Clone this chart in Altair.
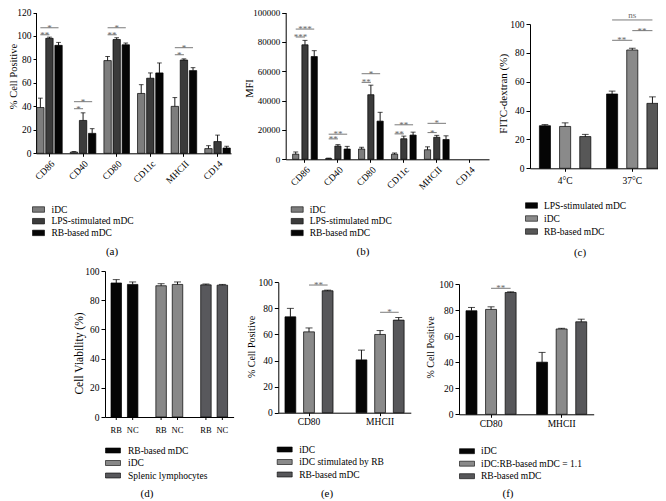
import altair as alt
import pandas as pd

FONT = "Liberation Serif"
W, H = 650, 493
M = 8
SIG_COLOR = "#6c6c6c"

# ---------------- data ----------------
# (a) % Cell Positive
a_cats = ["CD86", "CD40", "CD80", "CD11c", "MHCII", "CD14"]
a_groups = ["iDC", "LPS-stimulated mDC", "RB-based mDC"]
a_idc = [39, 1, 79, 51, 40, 4]
a_idc_err = [8, 0.5, 3.5, 7.5, 7.5, 2.5]
a_lps = [98, 28, 97, 64, 79.5, 10]
a_lps_err = [1, 6.5, 1.5, 4.5, 1, 5.5]
a_rb = [92, 17, 92.5, 68.5, 70.5, 4.5]
a_rb_err = [2.5, 4, 1.5, 8.5, 2.5, 1.5]
a_sig_cat = ["CD86", "CD86", "CD40", "CD40", "CD80", "CD80", "MHCII", "MHCII"]
a_sig_from = ["iDC"] * 8
a_sig_to = ["LPS-stimulated mDC", "RB-based mDC"] * 4
a_sig_y = [101, 107, 38, 44, 101, 107, 84, 90]
a_sig_text = ["**", "*", "*", "*", "**", "*", "*", "*"]

# (b) MFI
b_cats = ["CD86", "CD40", "CD80", "CD11c", "MHCII", "CD14"]
b_groups = ["iDC", "LPS-stimulated mDC", "RB-based mDC"]
b_measured = ["CD86", "CD40", "CD80", "CD11c", "MHCII"]
b_idc = [3500, 500, 7000, 3500, 6500]
b_idc_err = [1500, 300, 1200, 800, 2000]
b_lps = [78000, 9000, 44000, 14000, 15000]
b_lps_err = [3000, 1000, 6500, 1800, 1300]
b_rb = [70000, 7000, 26000, 16500, 13500]
b_rb_err = [4000, 1800, 6000, 2000, 2500]
b_sig_cat = ["CD86", "CD86", "CD40", "CD40", "CD80", "CD80", "CD11c", "CD11c", "MHCII", "MHCII"]
b_sig_from = ["iDC"] * 10
b_sig_to = ["LPS-stimulated mDC", "RB-based mDC"] * 5
b_sig_y = [83300, 88700, 13900, 17100, 52400, 58300, 17300, 23500, 18200, 24500]
b_sig_text = ["***", "***", "**", "**", "**", "*", "**", "**", "*", "*"]

# (c) FITC-dextran (%)
c_cats = ["4°C", "37°C"]
c_groups = ["LPS-stimulated mDC", "iDC", "RB-based mDC"]
c_lps = [29.5, 51.5]
c_lps_err = [0.8, 2]
c_idc = [29, 82]
c_idc_err = [2.5, 1.2]
c_rb = [22, 45]
c_rb_err = [1.5, 4.5]
c_sig_cat = ["37°C", "37°C", "37°C"]
c_sig_from = ["LPS-stimulated mDC", "iDC", "LPS-stimulated mDC"]
c_sig_to = ["iDC", "RB-based mDC", "RB-based mDC"]
c_sig_y = [88.7, 95.4, 102.8]
c_sig_text = ["**", "**", "ns"]

# (d) Cell Viability (%)
d_cells = ["RB-based mDC", "iDC", "Splenic lymphocytes"]
d_conds = ["RB", "NC"]
d_rb = [91.8, 89.9, 90.5]
d_rb_err = [2.3, 1.4, 0.6]
d_nc = [90.8, 90.8, 90.3]
d_nc_err = [1.7, 1.7, 0.5]

# (e) % Cell Positive
e_cats = ["CD80", "MHCII"]
e_groups = ["iDC", "iDC stimulated by RB", "RB-based mDC"]
e_idc = [73.5, 40.5]
e_idc_err = [6.5, 7.5]
e_stim = [62, 60]
e_stim_err = [3, 3]
e_rb = [93.5, 71]
e_rb_err = [0.5, 2]
e_sig_cat = ["CD80", "MHCII"]
e_sig_from = ["iDC stimulated by RB", "iDC stimulated by RB"]
e_sig_to = ["RB-based mDC", "RB-based mDC"]
e_sig_y = [97.9, 77]
e_sig_text = ["**", "*"]

# (f) % Cell Positive
f_cats = ["CD80", "MHCII"]
f_groups = ["iDC", "iDC:RB-based mDC = 1.1", "RB-based mDC"]
f_idc = [79.5, 40]
f_idc_err = [2.5, 7.5]
f_mix = [80.5, 65.5]
f_mix_err = [2, 0.5]
f_rb = [93.5, 71]
f_rb_err = [0.5, 2]
f_sig_cat = ["CD80"]
f_sig_from = ["iDC:RB-based mDC = 1.1"]
f_sig_to = ["RB-based mDC"]
f_sig_y = [96.7]
f_sig_text = ["**"]

captions = ["(a)", "(b)", "(c)", "(d)", "(e)", "(f)"]

# ---------------- helpers ----------------
# symbol paths are scaled by sqrt(size)/2 = 5 px per unit (size 100)
RECT_A = "M-1.2,-0.55H1.2V0.55H-1.2Z"   # 12 x 5.5 px
RECT_D = "M-1.5,-0.5H1.5V0.5H-1.5Z"     # 15 x 5 px


def axis(**kw):
    base = dict(domainColor="black", domainWidth=1, tickColor="black", tickWidth=1,
                labelFont=FONT, labelColor="black", grid=False,
                titleFont=FONT, titleColor="black", titleFontWeight="normal")
    base.update(kw)
    return alt.Axis(**base)


def legend(g):
    half = 6 if g["sym"] == RECT_A else 7.5
    return alt.Legend(orient="none", legendX=g["lx"] - M + (half - 5), legendY=g["ly"] - M - 5,
                      title=None, direction="vertical", symbolType=g["sym"],
                      symbolSize=100, symbolStrokeColor="black",
                      symbolStrokeWidth=0.6, labelFont=FONT, labelFontSize=9.5,
                      labelColor="black", labelOffset=(half - 5) + g["gap"],
                      rowPadding=g["rowpad"], padding=0)


def encodings(cats, groups, g):
    ax = g["ax"] - M
    y0 = g["y0"] - M
    yt = g["ytop"] - M
    xs = alt.Scale(domain=cats, range=[ax, g["xend"] - M], paddingInner=g["pi"],
                   paddingOuter=g["po"], align=g.get("align", 0.5))
    ys = alt.Scale(domain=g["ydom"], range=[y0, yt], nice=False, zero=False)
    offs = alt.Scale(domain=groups, paddingInner=g["opi"], paddingOuter=0)
    xaxis = axis(orient="bottom", offset=y0 - H, ticks=g.get("xticks", True), tickSize=3,
                 labels=g.get("xlabels", True), labelAngle=g.get("angle", 0),
                 labelFontSize=g.get("xfs", 9.5), labelPadding=g.get("xpad", 2))
    yaxis = axis(orient="left", offset=-ax, values=g["yvals"], format="d",
                 tickSize=g.get("ytick", 4), labelFontSize=g.get("yfs", 9.5), labelPadding=2,
                 titleFontSize=g["tfs"], titleAngle=270, titleAlign="center",
                 titleBaseline="middle", titleX=g["tx"] - g["ax"], titleY=g["ty"] - M)
    X = alt.X("cat:N", scale=xs, axis=xaxis, title=None)
    XO = alt.XOffset("grp:N", scale=offs)

    def Y(field):
        return alt.Y(f"{field}:Q", scale=ys, axis=yaxis, title=g["title"])
    return X, XO, Y


def bar_layers(df, X, XO, Y, color, g):
    bars = alt.Chart(df).mark_bar(stroke="black", strokeWidth=0.7).encode(
        x=X, xOffset=XO, y=Y("v"), color=color)
    err = alt.Chart(df).mark_rule(color="black", strokeWidth=0.9).encode(
        x=X, xOffset=XO, y=Y("v"), y2="top:Q")
    cap = alt.Chart(df).mark_tick(color="black", thickness=1, size=g["cap"]).encode(
        x=X, xOffset=XO, y=Y("top"))
    return [bars, err, cap]


def sig_layers(sig, groups, X, XO, Y, hp):
    cats_s, froms, tos, yv, labels = sig
    lines, texts = [], []
    for i, (c, f, t, y, lab) in enumerate(zip(cats_s, froms, tos, yv, labels)):
        lines.append({"id": i, "cat": c, "grp": f, "v": y})
        lines.append({"id": i, "cat": c, "grp": t, "v": y})
        fi, ti = groups.index(f), groups.index(t)
        adj = abs(ti - fi) == 1
        anchor = f if adj else groups[(fi + ti) // 2]
        kind = ("adj" if adj else "mid") + ("_ns" if lab == "ns" else "")
        texts.append({"cat": c, "grp": anchor, "v": y, "label": lab, "kind": kind})
    out = [alt.Chart(pd.DataFrame(lines)).mark_line(color=SIG_COLOR, strokeWidth=0.9).encode(
        x=X, xOffset=XO, y=Y("v"), detail="id:N")]
    tdf = pd.DataFrame(texts)
    for kind in tdf["kind"].unique():
        sub = tdf[tdf["kind"] == kind]
        dx = hp if kind.startswith("adj") else 0
        dy = -1.5 if kind.endswith("ns") else 3
        out.append(alt.Chart(sub).mark_text(font=FONT, fontSize=9, color=SIG_COLOR,
                                            baseline="alphabetic", dx=dx, dy=dy).encode(
            x=X, xOffset=XO, y=Y("v"), text="label:N"))
    return out


def grouped_panel(cats, groups, series, errs, colors, sig, g, measured=None):
    rows = []
    use = measured if measured is not None else cats
    for grp, vals, es in zip(groups, series, errs):
        for c, v, e in zip(use, vals, es):
            rows.append({"cat": c, "grp": grp, "v": v, "top": v + e})
    df = pd.DataFrame(rows)
    X, XO, Y = encodings(cats, groups, g)
    color = alt.Color("grp:N", scale=alt.Scale(domain=groups, range=colors), legend=legend(g))
    layers = bar_layers(df, X, XO, Y, color, g)
    if sig is not None:
        layers += sig_layers(sig, groups, X, XO, Y, g["hp"])
    return alt.layer(*layers)


# ---------------- panels ----------------
GA = dict(ax=36, y0=153.3, ytop=12.5, ydom=[0, 120], yvals=[0, 20, 40, 60, 80, 100, 120],
          xend=231, pi=0.24, po=0.02, opi=0.19, cap=4.7, angle=315, xfs=9.5, yfs=9.5, ytick=3,
          title="% Cell Positive", tfs=10.5, tx=13.8, ty=76, hp=4.5,
          lx=32, ly=209, sym=RECT_A, gap=6.5, rowpad=1.7)
GB = dict(ax=285.7, y0=159.3, ytop=12.5, ydom=[0, 100000],
          yvals=[0, 20000, 40000, 60000, 80000, 100000],
          xend=489, pi=0.25, po=0.21, opi=0.33, cap=5, angle=315, xfs=9.5, yfs=9,
          title="MFI", tfs=10.5, tx=249.5, ty=88, hp=4.7,
          lx=290.7, ly=209, sym=RECT_A, gap=6, rowpad=1.7)
GC = dict(ax=530, y0=168.3, ytop=24, ydom=[0, 100], yvals=[0, 20, 40, 60, 80, 100],
          xend=658, pi=0.234, po=0.07, align=1, opi=0.45, cap=6.7, xfs=9.5, xpad=4, yfs=9.5,
          title="FITC-dextran (%)", tfs=11, tx=503.3, ty=93.3, hp=9.7,
          lx=525, ly=205, sym=RECT_A, gap=6, rowpad=3)
GD = dict(ax=105, y0=417, ytop=271, ydom=[0, 100], yvals=[0, 20, 40, 60, 80, 100],
          xend=233.6, pi=0.4, po=0.134, opi=0.36, cap=7, xticks=False, xlabels=False, yfs=9.5,
          title="Cell Viability (%)", tfs=11.5, tx=79.5, ty=353,
          lx=105, ly=450, sym=RECT_D, gap=7, rowpad=2.5)
GE = dict(ax=278.3, y0=412.7, ytop=282.3, ydom=[0, 100], yvals=[0, 20, 40, 60, 80, 100],
          xend=410.8, pi=0.324, po=0.094, opi=0.42, cap=7, xfs=9.5, xpad=1, yfs=9.5,
          title="% Cell Positive", tfs=10, tx=252, ty=346.5, hp=9.5,
          lx=276.7, ly=449, sym=RECT_D, gap=6.5, rowpad=2.5)
GF = dict(ax=459, y0=414.3, ytop=284, ydom=[0, 100], yvals=[0, 20, 40, 60, 80, 100],
          xend=593.7, pi=0.29, po=0.099, opi=0.44, cap=7, xfs=9.5, xpad=1, yfs=9.5,
          title="% Cell Positive", tfs=10, tx=430, ty=347, hp=9.7,
          lx=459, ly=450.7, sym=RECT_D, gap=6, rowpad=2.5)

pa = grouped_panel(a_cats, a_groups, [a_idc, a_lps, a_rb], [a_idc_err, a_lps_err, a_rb_err],
                   ["#7d7d7d", "#3b3b3b", "#050505"],
                   (a_sig_cat, a_sig_from, a_sig_to, a_sig_y, a_sig_text), GA)
pb = grouped_panel(b_cats, b_groups, [b_idc, b_lps, b_rb], [b_idc_err, b_lps_err, b_rb_err],
                   ["#7d7d7d", "#3b3b3b", "#050505"],
                   (b_sig_cat, b_sig_from, b_sig_to, b_sig_y, b_sig_text), GB,
                   measured=b_measured)
pc = grouped_panel(c_cats, c_groups, [c_lps, c_idc, c_rb], [c_lps_err, c_idc_err, c_rb_err],
                   ["#050505", "#8a8a8a", "#575757"],
                   (c_sig_cat, c_sig_from, c_sig_to, c_sig_y, c_sig_text), GC)
pe = grouped_panel(e_cats, e_groups, [e_idc, e_stim, e_rb], [e_idc_err, e_stim_err, e_rb_err],
                   ["#050505", "#8a8a8a", "#57575a"],
                   (e_sig_cat, e_sig_from, e_sig_to, e_sig_y, e_sig_text), GE)
pf = grouped_panel(f_cats, f_groups, [f_idc, f_mix, f_rb], [f_idc_err, f_mix_err, f_rb_err],
                   ["#050505", "#8a8a8a", "#57575a"],
                   (f_sig_cat, f_sig_from, f_sig_to, f_sig_y, f_sig_text), GF)

# (d): cell type on x, RB / NC as offset
d_rows = []
for cell, rv, re_, nv, ne in zip(d_cells, d_rb, d_rb_err, d_nc, d_nc_err):
    d_rows.append({"cat": cell, "grp": "RB", "v": rv, "top": rv + re_})
    d_rows.append({"cat": cell, "grp": "NC", "v": nv, "top": nv + ne})
d_df = pd.DataFrame(d_rows)
XD, XOD, YD = encodings(d_cells, d_conds, GD)
d_color = alt.Color("cat:N", scale=alt.Scale(domain=d_cells, range=["#050505", "#888888", "#58585c"]),
                    legend=legend(GD))
d_layers = bar_layers(d_df, XD, XOD, YD, d_color, GD)
d_y0 = GD["y0"] - M
d_layers.append(alt.Chart(d_df).mark_rule(color="black", strokeWidth=1).encode(
    x=XD, xOffset=XOD, y=alt.value(d_y0), y2=alt.value(d_y0 + 3)))
d_layers.append(alt.Chart(d_df).mark_text(font=FONT, fontSize=8.5, color="black",
                                          baseline="middle").encode(
    x=XD, xOffset=XOD, y=alt.value(d_y0 + 13), text="grp:N"))
pd_ = alt.layer(*d_layers)

# captions
cap_pos = [(112, 252), (363, 252), (580, 253), (147, 494), (327, 494), (508, 494)]
cap_layers = []
for txt, (cx, cy) in zip(captions, cap_pos):
    cap_layers.append(alt.Chart(pd.DataFrame({"t": [txt]})).mark_text(
        font=FONT, fontSize=11, color="black", baseline="middle", align="center").encode(
        text="t:N", x=alt.value(cx - M), y=alt.value(cy - M)))

chart = alt.layer(pa, pb, pc, pd_, pe, pf, *cap_layers).resolve_scale(
    x="independent", y="independent", xOffset="independent", color="independent"
).resolve_axis(x="independent", y="independent").resolve_legend(color="independent").properties(
    width=W, height=H, padding=0, autosize=alt.AutoSizeParams(type="none")
).configure_view(stroke=None)

chart.save("out.html", embed_options={"renderer": "svg", "actions": False})
